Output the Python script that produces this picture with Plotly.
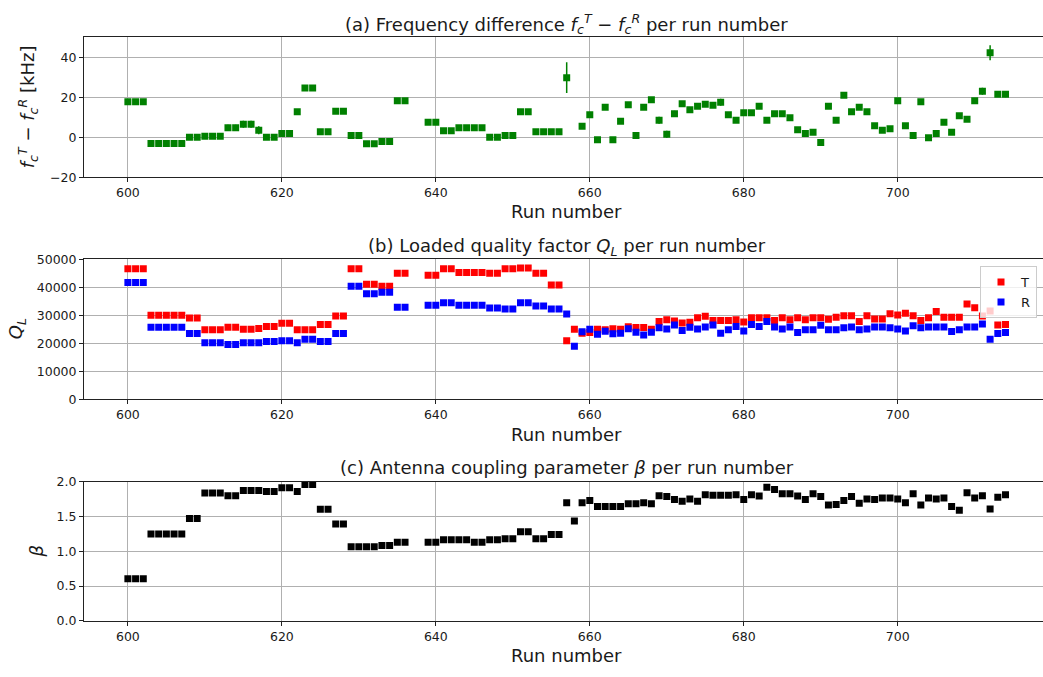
import plotly.graph_objects as go

# ---------------- data ----------------
runs = [600, 601, 602, 603, 604, 605, 606, 607, 608, 609,
        610, 611, 612, 613, 614, 615, 616, 617, 618, 619,
        620, 621, 622, 623, 624, 625, 626, 627, 628, 629,
        630, 631, 632, 633, 634, 635, 636,
        639, 640, 641, 642, 643, 644, 645, 646, 647, 648, 649,
        650, 651, 652, 653, 654, 655, 656, 657, 658, 659,
        660, 661, 662, 663, 664, 665, 666, 667, 668, 669,
        670, 671, 672, 673, 674, 675, 676, 677, 678, 679,
        680, 681, 682, 683, 684, 685, 686, 687, 688, 689,
        690, 691, 692, 693, 694, 695, 696, 697, 698, 699,
        700, 701, 702, 703, 704, 705, 706, 707, 708, 709,
        710, 711, 712, 713, 714]

freq_diff = [17.7, 17.7, 17.7, -3.2, -3.2, -3.2, -3.2, -3.2, 0.0, 0.0,
             0.5, 0.5, 0.5, 4.7, 4.7, 6.5, 6.5, 3.5, 0.0, 0.0,
             1.8, 1.8, 12.7, 24.7, 24.7, 2.8, 2.8, 13.0, 13.0, 0.9,
             0.9, -3.3, -3.3, -2.2, -2.2, 18.2, 18.2,
             7.5, 7.5, 3.2, 3.2, 4.7, 4.7, 4.7, 4.7, 0.0, 0.0, 0.8,
             0.8, 12.7, 12.7, 2.8, 2.8, 2.8, 2.8, 29.8, None, 5.5,
             11.2, -1.3, 15.0, -1.3, 8.0, 16.3, 0.8, 15.0, 18.8, 8.5,
             1.5, 11.7, 16.8, 13.8, 15.5, 16.5, 16.0, 17.5, 11.3, 8.5,
             12.3, 12.3, 15.5, 8.5, 11.8, 11.8, 9.8, 3.8, 1.8, 2.5,
             -2.7, 15.5, 8.5, 21.0, 12.7, 15.0, 12.7, 5.7, 3.5, 4.3,
             18.3, 5.7, 0.8, 17.7, -0.3, 1.8, 7.5, 2.5, 10.8, 9.0,
             18.3, 23.0, 42.3, 21.5, 21.5]

freq_err = [0.6, 0.6, 0.6, 0.8, 0.8, 0.8, 0.8, 0.8, 0.6, 0.6,
            0.6, 0.6, 0.6, 1.5, 1.5, 1.8, 1.8, 2.0, 0.6, 0.6,
            0.6, 0.6, 0.6, 0.6, 0.6, 0.6, 0.6, 0.6, 0.6, 0.6,
            0.6, 0.6, 0.6, 0.6, 0.6, 0.6, 0.6,
            0.6, 0.6, 0.6, 0.6, 0.6, 0.6, 0.6, 0.6, 0.6, 0.6, 0.6,
            0.6, 0.6, 0.6, 0.6, 0.6, 0.6, 0.6, 7.7, 0.0, 0.6,
            0.6, 0.6, 0.6, 0.6, 0.6, 1.0, 0.6, 1.0, 0.6, 1.8,
            1.8, 1.5, 0.6, 0.6, 0.6, 0.6, 0.6, 1.8, 0.6, 0.6,
            0.6, 0.6, 0.6, 0.6, 0.6, 0.6, 0.6, 0.6, 0.6, 0.6,
            0.6, 0.6, 0.6, 0.6, 0.6, 0.6, 0.6, 0.6, 0.6, 0.6,
            0.6, 0.6, 0.6, 0.6, 1.0, 0.6, 0.6, 0.6, 0.6, 1.0,
            0.6, 1.8, 3.8, 1.2, 1.5]

q_T = [46600, 46600, 46600, 30000, 30000, 30000, 30000, 30000, 29000, 29000,
       24800, 24800, 24800, 25700, 25700, 25000, 25000, 25300, 26000, 26000,
       27100, 27100, 24800, 24800, 24800, 26700, 26700, 29700, 29700, 46600,
       46600, 41100, 41100, 40400, 40400, 45000, 45000,
       44300, 44300, 46600, 46600, 45300, 45300, 45300, 45300, 45000, 45000, 46600,
       46600, 46900, 46900, 45000, 45000, 40800, 40800, 20900, 25000, 23600,
       23800, 25000, 24800, 25200, 25000, 25900, 25600, 25600, 25000, 27800,
       28400, 27900, 27200, 27500, 29100, 29600, 28100, 28100, 28100, 28400,
       27600, 29100, 29100, 29100, 28100, 29100, 28400, 29100, 28400, 29100,
       29100, 28600, 29300, 29800, 29800, 27800, 29800, 28700, 28700, 30500,
       30100, 30700, 29800, 28100, 29100, 31300, 29300, 29300, 29300, 34000,
       32700, 29700, 31500, 26500, 26700]

q_R = [41700, 41700, 41700, 25700, 25700, 25700, 25700, 25700, 23500, 23500,
       20200, 20200, 20200, 19500, 19500, 20200, 20200, 20200, 20600, 20600,
       20900, 20900, 20200, 21400, 21400, 20600, 20600, 23500, 23500, 40400,
       40400, 37700, 37700, 38200, 38200, 32900, 32900,
       33600, 33600, 34500, 34500, 33600, 33600, 33600, 33600, 32600, 32600, 32200,
       32200, 34500, 34500, 33300, 33300, 32200, 32200, 30400, 18900, 24100,
       25000, 23200, 24300, 23400, 23600, 25200, 23900, 22900, 23900, 25500,
       25100, 26500, 24500, 25700, 25100, 25800, 26500, 23600, 24800, 26000,
       24400, 26700, 26000, 27800, 25800, 25100, 25800, 23800, 24800, 24800,
       26400, 24800, 24800, 25500, 25800, 24800, 25100, 25800, 25800, 25500,
       25100, 24400, 26200, 25500, 25800, 25800, 25800, 24200, 24800, 25800,
       25800, 26900, 21400, 23500, 23800]

beta = [0.606, 0.606, 0.606, 1.249, 1.249, 1.249, 1.249, 1.249, 1.474, 1.474,
        1.840, 1.840, 1.840, 1.800, 1.800, 1.878, 1.878, 1.878, 1.864, 1.864,
        1.915, 1.915, 1.864, 1.962, 1.962, 1.606, 1.606, 1.394, 1.394, 1.066,
        1.066, 1.066, 1.066, 1.085, 1.085, 1.131, 1.131,
        1.131, 1.131, 1.169, 1.169, 1.169, 1.169, 1.131, 1.131, 1.169, 1.169, 1.183,
        1.183, 1.282, 1.282, 1.183, 1.183, 1.244, 1.244, 1.700, 1.437, 1.700,
        1.732, 1.648, 1.648, 1.648, 1.648, 1.685, 1.685, 1.700, 1.685, 1.803,
        1.789, 1.746, 1.723, 1.756, 1.723, 1.817, 1.808, 1.808, 1.808, 1.817,
        1.746, 1.817, 1.798, 1.925, 1.892, 1.831, 1.831, 1.798, 1.746, 1.831,
        1.789, 1.667, 1.676, 1.732, 1.789, 1.695, 1.756, 1.746, 1.770, 1.770,
        1.756, 1.700, 1.831, 1.667, 1.770, 1.756, 1.770, 1.648, 1.592, 1.845,
        1.770, 1.803, 1.610, 1.779, 1.817]

x_ticks = [600, 620, 640, 660, 680, 700]

# ---------------- layout helpers ----------------
W, H = 1043, 677


def px(x):
    return x / W


def py(y):
    return 1 - y / H


FONT = "DejaVu Sans"
TICK_FONT = dict(family=FONT, size=12.5, color="#1a1a1a")
GRID = "#b0b0b0"

fig = go.Figure()

fig.add_trace(go.Scatter(
    x=runs, y=freq_diff, mode="markers", showlegend=False,
    marker=dict(symbol="square", size=7, color="#008000", line=dict(width=0)),
    error_y=dict(type="data", array=freq_err, visible=True, color="#008000",
                 thickness=1.5, width=0),
    xaxis="x", yaxis="y"))

fig.add_trace(go.Scatter(
    x=runs, y=q_T, mode="markers", name="T",
    marker=dict(symbol="square", size=7, color="#ff0000", line=dict(width=0)),
    xaxis="x2", yaxis="y2"))

fig.add_trace(go.Scatter(
    x=runs, y=q_R, mode="markers", name="R",
    marker=dict(symbol="square", size=7, color="#0000ff", line=dict(width=0)),
    xaxis="x2", yaxis="y2"))

fig.add_trace(go.Scatter(
    x=runs, y=beta, mode="markers", showlegend=False,
    marker=dict(symbol="square", size=7, color="#000000", line=dict(width=0)),
    xaxis="x3", yaxis="y3"))

xr = [594.3, 718.87]
panels = [
    (30, 173, [-20, 50], [-20, 0, 20, 40], ["\u221220", "0", "20", "40"]),
    (257, 400, [0, 50000], [0, 10000, 20000, 30000, 40000, 50000],
     ["0", "10000", "20000", "30000", "40000", "50000"]),
    (484.7, 626.7, [0, 2], [0, 0.5, 1.0, 1.5, 2.0],
     ["0.0", "0.5", "1.0", "1.5", "2.0"]),
]

layout = dict(
    width=W, height=H,
    margin=dict(l=0, r=0, t=0, b=0),
    paper_bgcolor="white", plot_bgcolor="white",
    font=dict(family=FONT, color="#1a1a1a"),
    legend=dict(x=px(1037), y=py(264), xanchor="right", yanchor="top",
                bgcolor="rgba(255,255,255,0.8)", bordercolor="#cccccc",
                borderwidth=1, font=dict(family=FONT, size=13, color="#1a1a1a"),
                itemwidth=30, tracegroupgap=0),
)

for i, (top, bot, yr, tv, tt) in enumerate(panels, start=1):
    sfx = "" if i == 1 else str(i)
    layout["xaxis" + sfx] = dict(
        domain=[px(84), 1.0], range=xr, anchor="y" + sfx,
        tickvals=x_ticks, ticktext=[str(v) for v in x_ticks],
        showgrid=True, gridcolor=GRID, gridwidth=0.8,
        showline=True, linecolor="#222222", linewidth=1, mirror=True,
        ticks="outside", ticklen=4, tickwidth=1, tickcolor="#222222",
        tickfont=TICK_FONT, zeroline=False)
    layout["yaxis" + sfx] = dict(
        domain=[py(bot), py(top)], range=yr, anchor="x" + sfx,
        tickvals=tv, ticktext=tt,
        showgrid=True, gridcolor=GRID, gridwidth=0.8,
        showline=True, linecolor="#222222", linewidth=1, mirror=False,
        ticks="outside", ticklen=4, tickwidth=1, tickcolor="#222222",
        tickfont=TICK_FONT, zeroline=False)

fig.update_layout(**layout)

titles = [
    ("(a) Frequency difference <i>f</i><sub><i>c</i></sub><sup><i>T</i></sup>"
     " \u2212 <i>f</i><sub><i>c</i></sub><sup><i>R</i></sup> per run number", 16),
    ("(b) Loaded quality factor <i>Q</i><sub><i>L</i></sub> per run number", 244),
    ("(c) Antenna coupling parameter <i>\u03b2</i> per run number", 470),
]
xcenter = px((84 + 1049) / 2)
for text, yc in titles:
    fig.add_annotation(text=text, x=xcenter, y=py(yc), xref="paper", yref="paper",
                       xanchor="center", yanchor="middle", showarrow=False,
                       font=dict(family=FONT, size=18, color="#1a1a1a"))

for yc in [208, 436, 662]:
    fig.add_annotation(text="Run number", x=xcenter, y=py(yc), xref="paper", yref="paper",
                       xanchor="center", yanchor="middle", showarrow=False,
                       font=dict(family=FONT, size=18, color="#1a1a1a"))

ylabels = [
    ("<i>f</i><sub><i>c</i></sub><sup><i>T</i></sup> \u2212 "
     "<i>f</i><sub><i>c</i></sub><sup><i>R</i></sup> [kHz]", 28, 101.5),
    ("<i>Q</i><sub><i>L</i></sub>", 17, 328.5),
    ("<i>\u03b2</i>", 36, 555.7),
]
for text, xc, yc in ylabels:
    fig.add_annotation(text=text, x=px(xc), y=py(yc), xref="paper", yref="paper",
                       xanchor="center", yanchor="middle", showarrow=False,
                       textangle=-90,
                       font=dict(family=FONT, size=18, color="#1a1a1a"))

fig.write_html("out.html")
